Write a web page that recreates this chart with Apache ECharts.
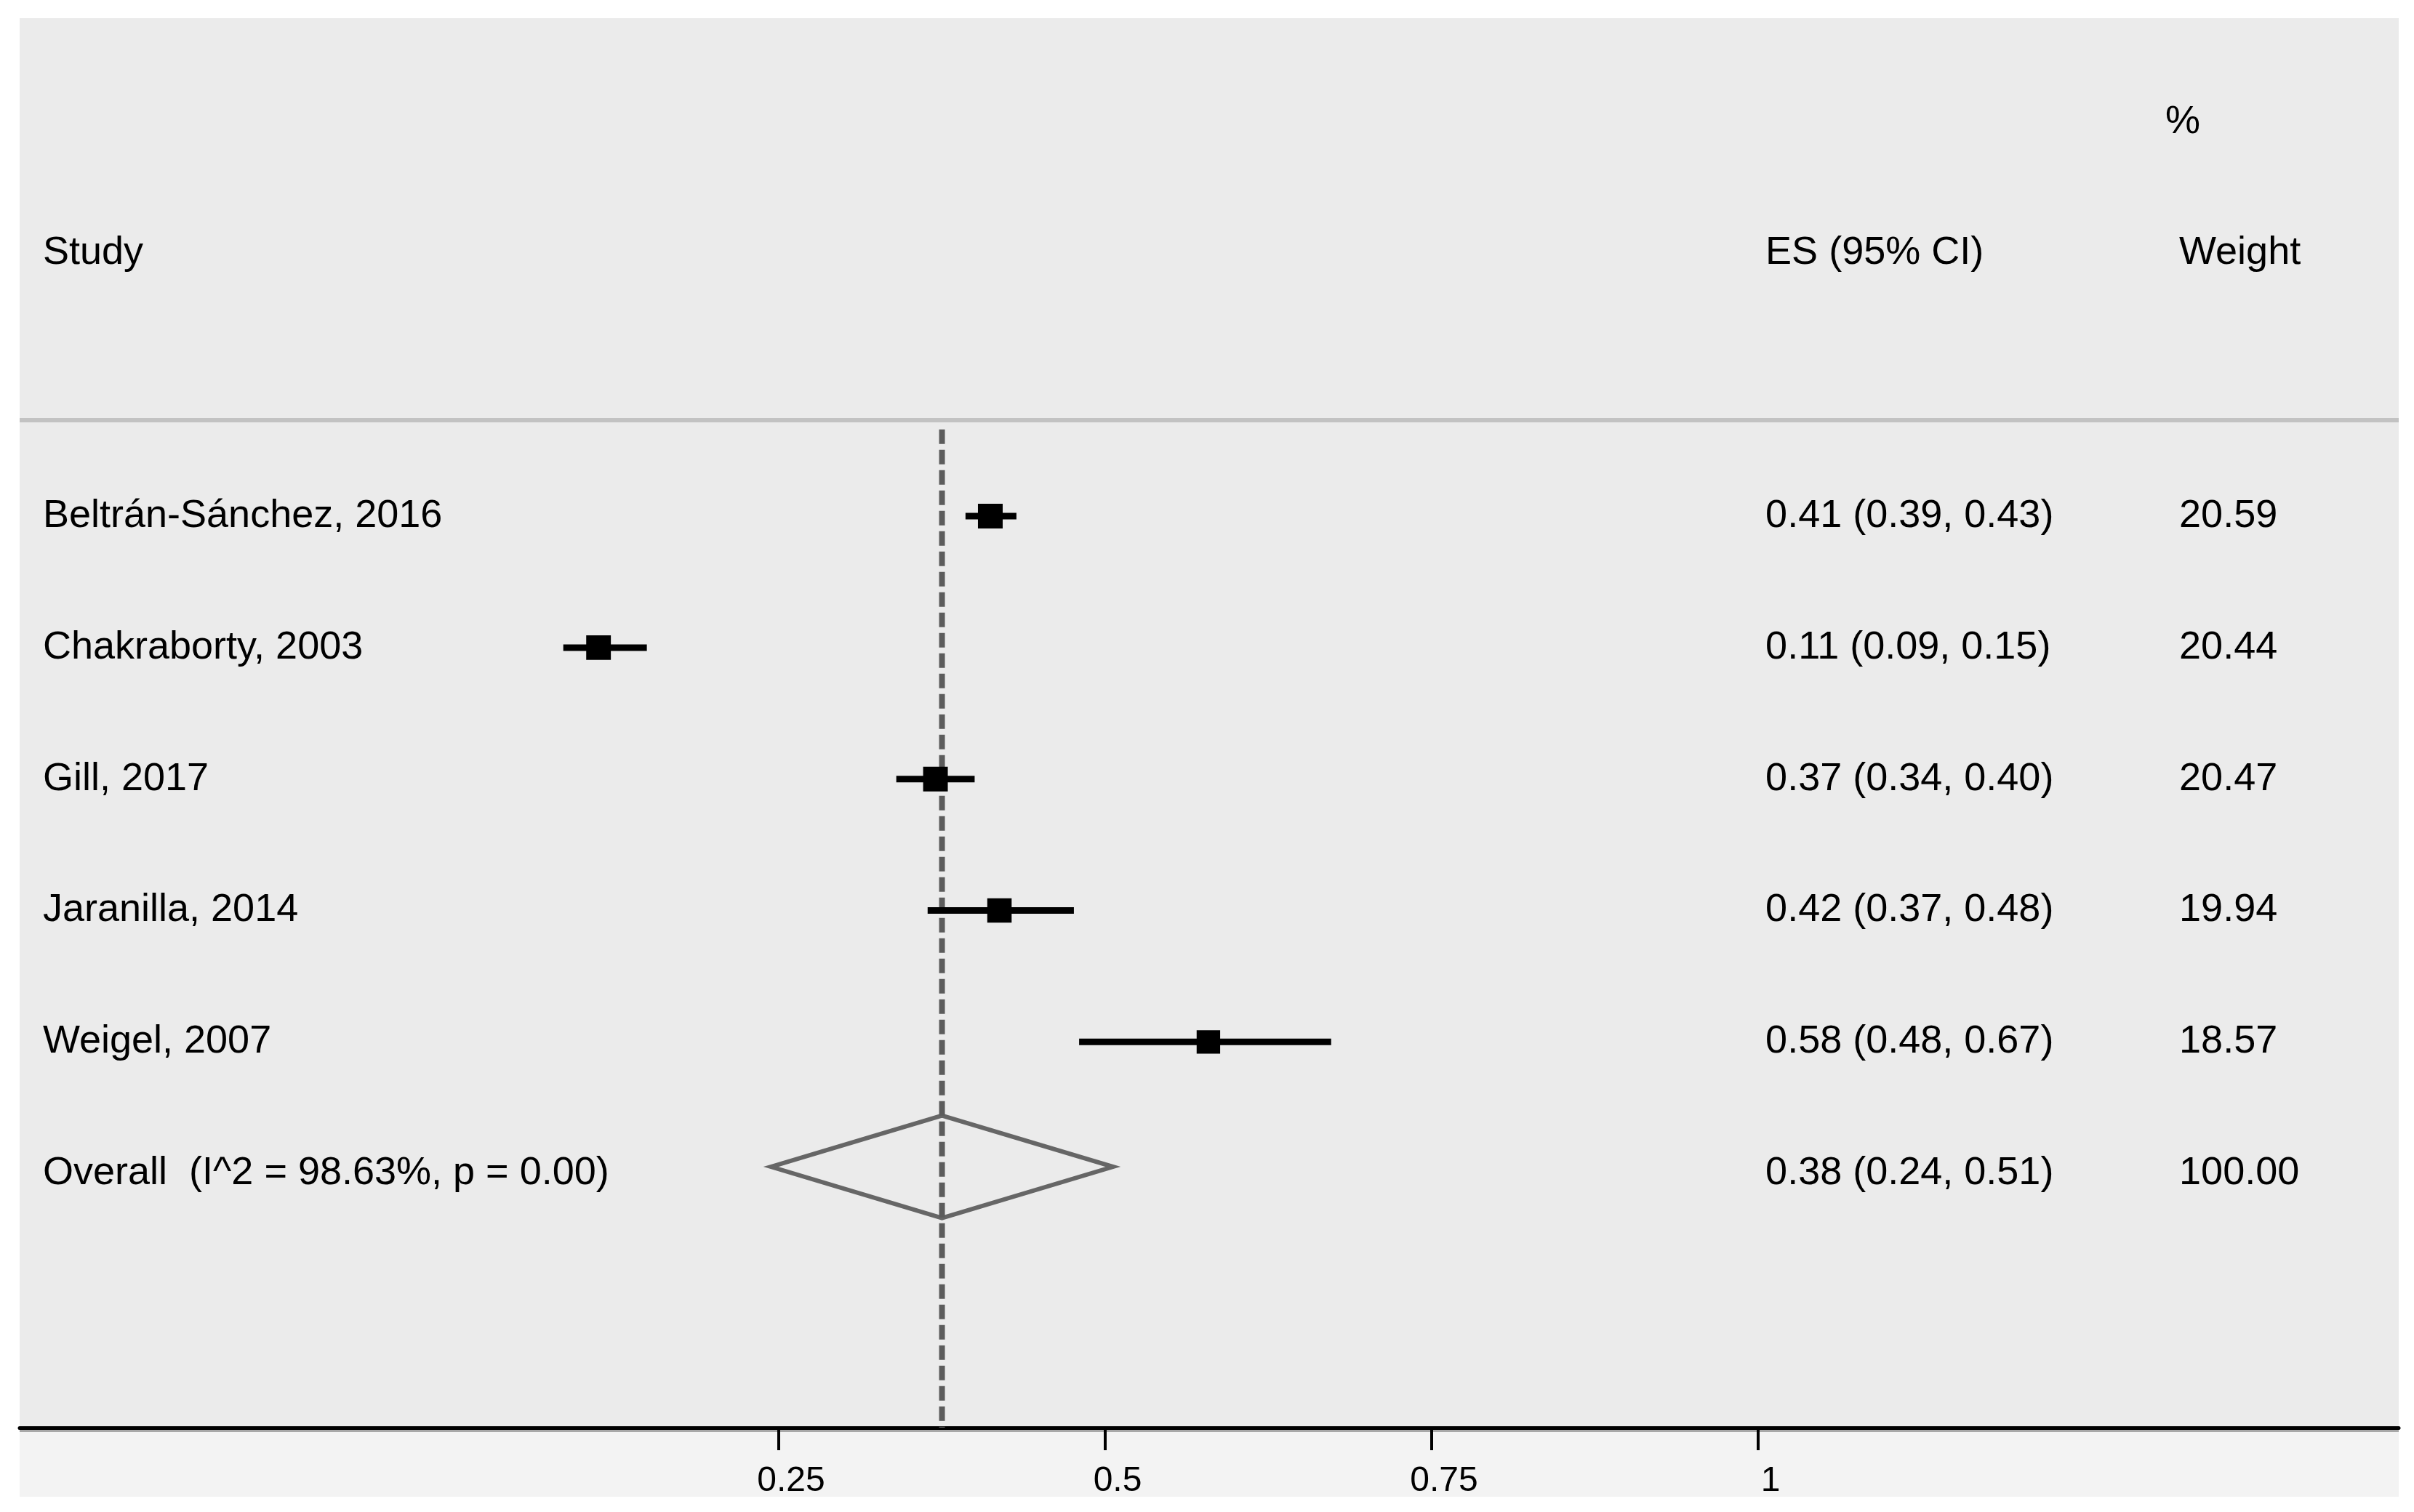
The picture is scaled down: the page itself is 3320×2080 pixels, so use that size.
<!DOCTYPE html>
<html>
<head>
<meta charset="utf-8">
<script src="https://cdn.jsdelivr.net/npm/echarts@6/dist/echarts.min.js"></script>
<style>
html,body{margin:0;padding:0;background:#fff;}
#chart{width:3320px;height:2080px;}
</style>
</head>
<body>
<div id="chart"></div>
<script>
// ---------------- data ----------------
const studies = ['Beltrán-Sánchez, 2016', 'Chakraborty, 2003', 'Gill, 2017', 'Jaranilla, 2014', 'Weigel, 2007'];
const es = [0.412, 0.112, 0.370, 0.419, 0.579];
const ciLow = [0.393, 0.085, 0.340, 0.364, 0.480];
const ciHigh = [0.432, 0.149, 0.400, 0.476, 0.673];
const weights = [20.59, 20.44, 20.47, 19.94, 18.57];
const esLabels = ['0.41 (0.39, 0.43)', '0.11 (0.09, 0.15)', '0.37 (0.34, 0.40)', '0.42 (0.37, 0.48)', '0.58 (0.48, 0.67)'];
const weightLabels = ['20.59', '20.44', '20.47', '19.94', '18.57'];
const overallLabel = 'Overall  (I^2 = 98.63%, p = 0.00)';
const overallEs = 0.375;
const overallLow = 0.244;
const overallHigh = 0.506;
const overallEsLabel = '0.38 (0.24, 0.51)';
const overallWeightLabel = '100.00';
const headerLabels = ['Study', 'ES (95% CI)', 'Weight', '%'];
const xTicks = [0.25, 0.5, 0.75, 1];

// ---------------- layout ----------------
const X_MIN = -0.3313, X_MAX = 1.4905;
const Y_MIN = -3.789, Y_MAX = 6.935;
const COL_STUDY = -0.3135, COL_ES = 1.0056, COL_W = 1.3224, COL_PCT = 1.3118;
const HEADER_ROW = -2, PCT_ROW = -3, SEP_ROW = -0.73;
const OVERALL_ROW = studies.length;
const FONT = '54px "Liberation Sans", Arial, sans-serif';

const textItems = [];
textItems.push([COL_STUDY, HEADER_ROW, headerLabels[0]]);
textItems.push([COL_ES, HEADER_ROW, headerLabels[1]]);
textItems.push([COL_W, HEADER_ROW, headerLabels[2]]);
textItems.push([COL_PCT, PCT_ROW, headerLabels[3]]);
studies.forEach((s, i) => {
  textItems.push([COL_STUDY, i, s]);
  textItems.push([COL_ES, i, esLabels[i]]);
  textItems.push([COL_W, i, weightLabels[i]]);
});
textItems.push([COL_STUDY, OVERALL_ROW, overallLabel]);
textItems.push([COL_ES, OVERALL_ROW, overallEsLabel]);
textItems.push([COL_W, OVERALL_ROW, overallWeightLabel]);

const ciData = studies.map((s, i) => [es[i], i, ciLow[i], ciHigh[i], weights[i]]);

const chart = echarts.init(document.getElementById('chart'));
chart.setOption({
  backgroundColor: '#ffffff',
  animation: false,
  graphic: [
    { type: 'rect', z: -5, shape: { x: 27, y: 1966, width: 3272, height: 93 }, style: { fill: '#f3f3f3' } },
    { type: 'rect', z: -4, shape: { x: 27, y: 1966, width: 3272, height: 4 }, style: { fill: '#a8a8a8' } }
  ],
  grid: {
    left: 27, right: 21, top: 25, bottom: 116,
    show: true, backgroundColor: '#ebebeb', borderWidth: 0
  },
  xAxis: {
    type: 'value', min: X_MIN, max: X_MAX,
    splitLine: { show: false },
    axisLine: { show: true, onZero: false, lineStyle: { color: '#000', width: 5 } },
    axisTick: { show: true, customValues: xTicks, length: 31, lineStyle: { color: '#000', width: 4 } },
    axisLabel: {
      show: true, customValues: xTicks, margin: 50,
      color: '#000', fontSize: 48, fontFamily: '"Liberation Sans", Arial, sans-serif',
      padding: [0, 0, 0, 34],
      formatter: v => String(v)
    }
  },
  yAxis: {
    type: 'value', min: Y_MIN, max: Y_MAX, inverse: true, show: false,
    splitLine: { show: false }
  },
  series: [
    {
      // header separator line
      type: 'custom',
      data: [[X_MIN, SEP_ROW]],
      renderItem: (params, api) => {
        const a = api.coord([X_MIN, api.value(1)]);
        const b = api.coord([X_MAX, api.value(1)]);
        return { type: 'line', shape: { x1: a[0], y1: a[1], x2: b[0], y2: b[1] }, style: { stroke: '#c2c2c2', lineWidth: 6 } };
      },
      z: 2
    },
    {
      // overall diamond
      type: 'custom',
      data: [[overallEs, OVERALL_ROW, overallLow, overallHigh]],
      renderItem: (params, api) => {
        const row = api.value(1) - 0.05;
        const l = api.coord([api.value(2), row]);
        const r = api.coord([api.value(3), row]);
        const t = api.coord([api.value(0), row - 0.39]);
        const bt = api.coord([api.value(0), row + 0.39]);
        return {
          type: 'polygon',
          shape: { points: [l, t, r, bt] },
          style: { fill: 'none', stroke: '#666666', lineWidth: 6, lineJoin: 'miter' }
        };
      },
      z: 3
    },
    {
      // overall effect dashed line
      type: 'line',
      data: [[overallEs, SEP_ROW + 0.07], [overallEs, Y_MAX]],
      symbol: 'none',
      lineStyle: { color: '#5c5c5c', width: 8, type: [20, 8] },
      z: 4
    },
    {
      // study CIs and weight boxes
      type: 'custom',
      data: ciData,
      encode: { x: [0, 2, 3], y: 1 },
      renderItem: (params, api) => {
        const row = api.value(1);
        const p = api.coord([api.value(0), row]);
        const a = api.coord([api.value(2), row]);
        const b = api.coord([api.value(3), row]);
        const side = 7.5 * Math.sqrt(api.value(4));
        return {
          type: 'group',
          children: [
            { type: 'line', shape: { x1: a[0], y1: a[1], x2: b[0], y2: b[1] }, style: { stroke: '#000', lineWidth: 9 } },
            { type: 'rect', shape: { x: p[0] - side / 2, y: p[1] - side / 2, width: side, height: side }, style: { fill: '#000' } }
          ]
        };
      },
      z: 5
    },
    {
      // text columns
      type: 'custom',
      data: textItems.map(t => [t[0], t[1]]),
      renderItem: (params, api) => {
        const p = api.coord([api.value(0), api.value(1)]);
        return {
          type: 'text',
          style: {
            x: p[0], y: p[1], text: textItems[params.dataIndex][2],
            font: FONT, fill: '#000', align: 'left', verticalAlign: 'middle'
          }
        };
      },
      z: 6
    }
  ]
});
</script>
</body>
</html>
